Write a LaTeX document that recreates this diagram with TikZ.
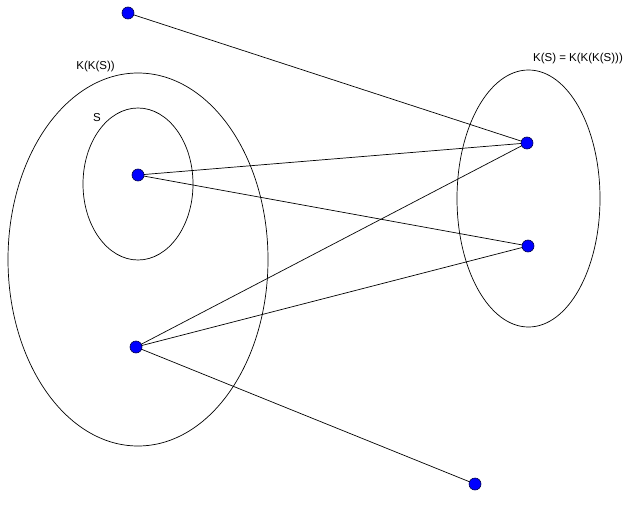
\documentclass[tikz,border=0pt]{standalone}
\usepackage{fontspec}
\setmainfont{Liberation Sans}
\begin{document}
\begin{tikzpicture}[x=1pt,y=-1pt,
  dot/.style={circle,draw=black!70!blue,fill=blue,inner sep=0pt,minimum size=12pt,line width=0.6pt},
  set/.style={draw=black,line width=0.7pt},
  edge/.style={draw=black,line width=0.7pt},
  lab/.style={font=\fontsize{11.5}{13}\selectfont,inner sep=0pt}]
\useasboundingbox (0,0) rectangle (636,508);
\draw[set] (138,259.5) ellipse [x radius=130, y radius=186.5];
\draw[set] (138,184) ellipse [x radius=55, y radius=76];
\draw[set] (528.5,198.5) ellipse [x radius=71.5, y radius=128.5];
\node[lab] (lkk) at (95.5,67) {K(K(S))};
\node[lab] (ls) at (97,118) {S};
\node[lab] (lk) at (578,59) {K(S) = K(K(K(S)))};
\coordinate (top) at (128,13);
\coordinate (s) at (138,175);
\coordinate (low) at (136,347);
\coordinate (r1) at (527,143);
\coordinate (r2) at (528,246);
\coordinate (bot) at (475,484);
\draw[edge] (top) -- (r1);
\draw[edge] (s) -- (r1);
\draw[edge] (s) -- (r2);
\draw[edge] (low) -- (r1);
\draw[edge] (low) -- (r2);
\draw[edge] (low) -- (bot);
\foreach \p in {top,s,low,r1,r2,bot} \node[dot] (d\p) at (\p) {};
\end{tikzpicture}
\end{document}
